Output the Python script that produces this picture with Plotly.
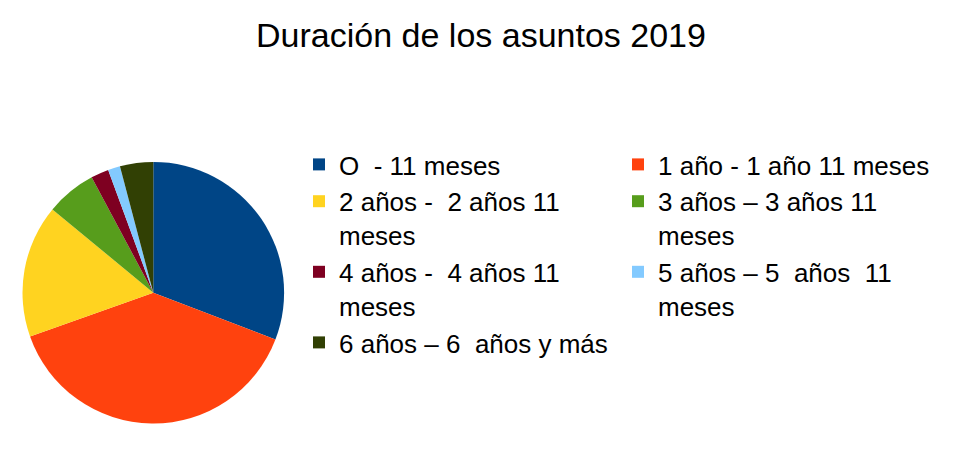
import plotly.graph_objects as go

labels = [
    "O  - 11 meses",
    "1 año - 1 año 11 meses",
    "2 años -  2 años 11<br>meses",
    "3 años – 3 años 11<br>meses",
    "4 años -  4 años 11<br>meses",
    "5 años – 5  años  11<br>meses",
    "6 años – 6  años y más",
]
values = [30.8, 38.7, 16.4, 6.2, 2.2, 1.5, 4.1]
colors = ["#004586", "#ff420e", "#ffd320", "#579d1c", "#7e0021", "#83caff", "#314004"]

W, H = 955, 451
MR = 100          # right margin -> plot-area width used for legend wrapping
PW = W - MR       # plot-area width
OFF = 8           # page body margin offset
cx, cy, r = 153.3 - OFF, 292.7 - OFF, 130.8

fig = go.Figure(go.Pie(
    labels=labels,
    values=values,
    marker=dict(colors=colors, line=dict(width=0)),
    sort=False,
    direction="clockwise",
    rotation=0,
    textinfo="none",
    hoverinfo="label+percent",
    domain=dict(x=[(cx - r) / PW, (cx + r) / PW], y=[(H - cy - r) / H, (H - cy + r) / H]),
))

fig.update_layout(
    width=W, height=H,
    margin=dict(l=0, r=MR, t=0, b=0, autoexpand=False),
    paper_bgcolor="white",
    plot_bgcolor="white",
    font=dict(family="Liberation Sans, Arial, sans-serif", color="black"),
    title=dict(text="Duración de los asuntos 2019", x=(481 - OFF) / W, xanchor="center",
               y=1 - (35 - OFF) / H, yanchor="middle",
               font=dict(size=34, family="Liberation Sans, Arial, sans-serif", color="black")),
    legend=dict(
        orientation="h",
        x=(299 - OFF) / PW, xanchor="left",
        y=1 - (141 - OFF) / H, yanchor="top",
        entrywidth=274,
        entrywidthmode="pixels",
        valign="top",
        font=dict(size=26, family="Liberation Sans, Arial, sans-serif", color="black"),
        traceorder="normal",
        itemclick=False,
    ),
    showlegend=True,
)

fig.write_html("out.html")
